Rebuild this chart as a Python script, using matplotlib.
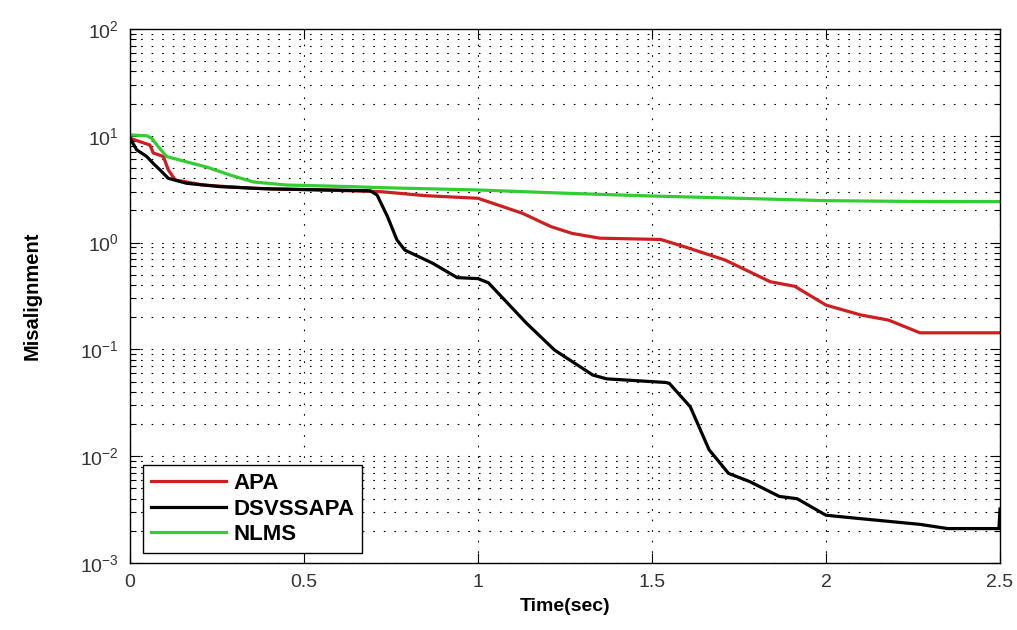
import matplotlib
matplotlib.use('Agg')
import matplotlib.pyplot as plt
from matplotlib.ticker import LogLocator, NullFormatter, FixedLocator

plt.rcParams['font.family'] = ['Liberation Sans', 'DejaVu Sans']

# NLMS (green)
t_nlms = [0, 0.048, 0.062, 0.08, 0.105, 0.163, 0.22, 0.287, 0.354, 0.45, 0.64, 0.72,
          1.0, 1.25, 1.5, 1.75, 2.0, 2.25, 2.5]
v_nlms = [10.2, 10.0, 9.5, 8.0, 6.4, 5.7, 5.1, 4.3, 3.7, 3.46, 3.34, 3.27,
          3.11, 2.9, 2.73, 2.6, 2.47, 2.43, 2.42]

# APA (red)
t_apa = [0, 0.029, 0.057, 0.067, 0.096, 0.11, 0.13, 0.21, 0.354, 0.546, 0.72, 0.85,
         1.0, 1.128, 1.21, 1.27, 1.35, 1.525, 1.6, 1.71, 1.84, 1.91, 2.0, 2.1, 2.18,
         2.27, 2.5]
v_apa = [9.5, 8.8, 8.2, 6.9, 6.4, 4.8, 3.86, 3.46, 3.22, 3.11, 3.0, 2.75,
         2.6, 1.88, 1.41, 1.22, 1.1, 1.07, 0.9, 0.687, 0.43, 0.39, 0.26, 0.21, 0.188,
         0.143, 0.143]

# DSVSSAPA (black)
t_ds = [0, 0.019, 0.048, 0.067, 0.086, 0.11, 0.163, 0.26, 0.402, 0.69, 0.71, 0.74,
        0.767, 0.79, 0.87, 0.94, 1.0, 1.03, 1.14, 1.22, 1.33, 1.37, 1.54, 1.55, 1.61,
        1.664, 1.72, 1.78, 1.866, 1.917, 2.0, 2.1, 2.27, 2.35, 2.497, 2.5]
v_ds = [9.5, 7.4, 6.4, 5.5, 4.8, 4.0, 3.59, 3.34, 3.18, 3.06, 2.79, 1.75,
        1.06, 0.85, 0.64, 0.47, 0.46, 0.42, 0.175, 0.0986, 0.0575, 0.053, 0.049, 0.048, 0.029,
        0.0115, 0.0069, 0.0058, 0.0042, 0.0040, 0.0028, 0.0026, 0.0023, 0.0021, 0.0021, 0.0032]

x_ticks = [0, 0.5, 1, 1.5, 2, 2.5]
x_tick_labels = ['0', '0.5', '1', '1.5', '2', '2.5']

fig = plt.figure(figsize=(10.17, 6.3), dpi=100)
ax = fig.add_axes([130 / 1017, 67 / 630, 870 / 1017, 534 / 630])

ax.plot(t_apa, v_apa, color='#cc2020', lw=2.3, label='APA')
ax.plot(t_ds, v_ds, color='black', lw=2.3, label='DSVSSAPA')
ax.plot(t_nlms, v_nlms, color='#33cc33', lw=2.3, label='NLMS')

ax.set_yscale('log')
ax.set_xlim(0, 2.5)
ax.set_ylim(1e-3, 1e2)
ax.xaxis.set_major_locator(FixedLocator(x_ticks))
ax.set_xticklabels(x_tick_labels)
ax.yaxis.set_major_locator(LogLocator(base=10, numticks=10))
ax.yaxis.set_minor_locator(LogLocator(base=10, subs=range(2, 10), numticks=20))
ax.yaxis.set_minor_formatter(NullFormatter())

# MATLAB style dotted grid
grid_kw = dict(color='black', linewidth=0.8, linestyle=(0, (1.5, 8)))
ax.grid(True, which='major', axis='both', **grid_kw)
ax.grid(True, which='minor', axis='y', **grid_kw)
ax.set_axisbelow(True)

ax.tick_params(which='both', direction='in', top=True, right=True, labelsize=14,
               colors='black', labelcolor='#333333')
ax.tick_params(which='major', length=7, width=0.8)
ax.tick_params(which='minor', length=4, width=0.8)
ax.tick_params(axis='x', pad=8)
ax.tick_params(axis='y', pad=8)
for s in ax.spines.values():
    s.set_linewidth(1.0)

ax.set_xlabel('Time(sec)', fontsize=14, fontweight='bold', labelpad=5)
ax.set_ylabel('Misalignment', fontsize=14.5, fontweight='bold', labelpad=28)

leg = ax.legend(loc='lower left', bbox_to_anchor=(0.015, 0.019), borderaxespad=0,
                prop={'weight': 'bold', 'size': 16}, handlelength=3.4,
                handletextpad=0.3, labelspacing=0.2, borderpad=0.35, fancybox=False,
                framealpha=1)
leg.get_frame().set_edgecolor('black')
leg.get_frame().set_linewidth(1.0)

fig.savefig('out.png', dpi=100, facecolor='white')
